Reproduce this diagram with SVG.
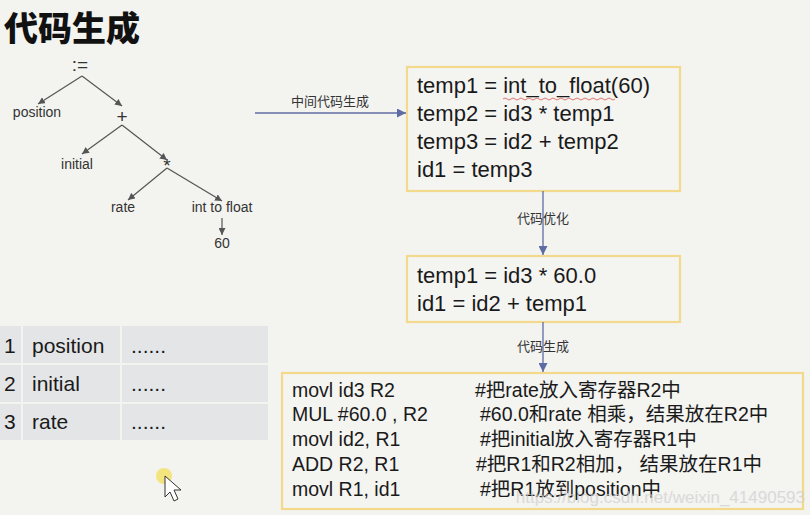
<svg xmlns="http://www.w3.org/2000/svg" width="810" height="515" viewBox="0 0 810 515">
<defs>
<style>
.bg{fill:#f3f3f0}
.title{font-family:"Noto Sans CJK SC","Noto Sans",sans-serif;font-weight:900;font-size:34px;fill:#111}
.tl{font-family:"Liberation Sans","Noto Sans",sans-serif;font-size:14px;fill:#333;text-anchor:middle}
.op{font-family:"Liberation Sans","Noto Sans",sans-serif;font-size:19px;fill:#333;text-anchor:middle}
.te{stroke:#555;stroke-width:1.2;fill:none;marker-end:url(#ta)}
.box{fill:#f4f4f1;stroke:#f3d98c;stroke-width:2.2}
.code{font-family:"Liberation Sans","Noto Sans",sans-serif;font-size:22px;fill:#1a1a1a}
.asm{font-family:"Liberation Sans","Noto Sans CJK SC",sans-serif;font-size:19.5px;fill:#1a1a1a}
.con{stroke:#5f6ca3;stroke-width:1.3;fill:none;marker-end:url(#ca)}
.lab{font-family:"Noto Sans CJK SC","Noto Sans",sans-serif;font-size:13px;fill:#333;text-anchor:middle}
.cell{fill:#e4e5e7}
.tt{font-family:"Liberation Sans","Noto Sans",sans-serif;font-size:21px;fill:#1a1a1a}
</style>
<marker id="ta" viewBox="0 0 10 10" refX="10" refY="5" markerWidth="7" markerHeight="7" orient="auto" markerUnits="userSpaceOnUse">
<path d="M0,0 L10,5 L0,10 z" fill="#555"/>
</marker>
<marker id="ca" viewBox="0 0 10 10" refX="10" refY="5" markerWidth="9" markerHeight="9" orient="auto" markerUnits="userSpaceOnUse">
<path d="M0,0 L10,5 L0,10 z" fill="#5f6ca3"/>
</marker>
</defs>
<rect class="bg" x="0" y="0" width="810" height="515"/>
<text class="title" x="4" y="41">代码生成</text>

<g id="tree">
<g id="n-assign"><text class="op" x="80" y="71">:=</text></g>
<g id="n-position"><text class="tl" x="37" y="117">position</text></g>
<g id="n-plus"><text class="op" x="122" y="123">+</text></g>
<g id="n-initial"><text class="tl" x="77" y="169">initial</text></g>
<g id="n-mul"><text class="op" x="167" y="172">*</text></g>
<g id="n-rate"><text class="tl" x="123" y="212">rate</text></g>
<g id="n-itf"><text class="tl" x="222" y="212">int to float</text></g>
<g id="n-60"><text class="tl" x="222" y="248">60</text></g>
<g id="tree-edges">
<line class="te" x1="82" y1="76" x2="38" y2="104"/>
<line class="te" x1="82" y1="76" x2="122" y2="106"/>
<line class="te" x1="122" y1="125" x2="82" y2="154"/>
<line class="te" x1="122" y1="125" x2="167" y2="160"/>
<line class="te" x1="167" y1="168" x2="128" y2="200"/>
<line class="te" x1="167" y1="168" x2="222" y2="201"/>
<line class="te" x1="222" y1="218" x2="222" y2="235"/>
</g>
</g>

<g id="symtab">
<rect class="cell" x="0" y="326" width="21" height="37"/>
<rect class="cell" x="23" y="326" width="97" height="37"/>
<rect class="cell" x="122" y="326" width="146" height="37"/>
<rect class="cell" x="0" y="365" width="21" height="37"/>
<rect class="cell" x="23" y="365" width="97" height="37"/>
<rect class="cell" x="122" y="365" width="146" height="37"/>
<rect class="cell" x="0" y="404" width="21" height="36"/>
<rect class="cell" x="23" y="404" width="97" height="36"/>
<rect class="cell" x="122" y="404" width="146" height="36"/>
<text class="tt" x="4" y="353">1</text>
<text class="tt" x="32" y="353">position</text>
<text class="tt" x="131" y="353">......</text>
<text class="tt" x="4" y="391">2</text>
<text class="tt" x="32" y="391">initial</text>
<text class="tt" x="131" y="391">......</text>
<text class="tt" x="4" y="429">3</text>
<text class="tt" x="32" y="429">rate</text>
<text class="tt" x="131" y="429">......</text>
</g>

<g id="box-ir">
<rect class="box" x="407" y="67" width="273" height="124"/>
<text class="code" x="417" y="93">temp1 = int_to_float(60)</text>
<path d="M503,99 q2,-2 4,0 t4,0 t4,0 t4,0 t4,0 t4,0 t4,0 t4,0 t4,0 t4,0 t4,0 t4,0 t4,0 t4,0 t4,0 t4,0 t4,0 t4,0 t4,0 t4,0 t4,0 t4,0 t4,0 t4,0 t4,0 t4,0 t4,0 t4,0" fill="none" stroke="#d9534f" stroke-width="0.8"/>
<text class="code" x="417" y="121">temp2 = id3 * temp1</text>
<text class="code" x="417" y="149">temp3 = id2 + temp2</text>
<text class="code" x="417" y="177">id1 = temp3</text>
</g>

<g id="box-opt">
<rect class="box" x="407" y="256" width="273" height="66"/>
<text class="code" x="417" y="283">temp1 = id3 * 60.0</text>
<text class="code" x="417" y="311">id1 = id2 + temp1</text>
</g>

<g id="box-asm">
<rect class="box" x="282" y="373" width="521" height="136"/>
<text class="asm" x="292" y="397">movl id3 R2</text>
<text class="asm" x="475" y="397">#把rate放入寄存器R2中</text>
<text class="asm" x="292" y="421">MUL #60.0  , R2</text>
<text class="asm" x="480" y="421">#60.0和rate 相乘，结果放在R2中</text>
<text class="asm" x="292" y="446">movl id2, R1</text>
<text class="asm" x="480" y="446">#把initial放入寄存器R1中</text>
<text class="asm" x="292" y="471">ADD R2, R1</text>
<text class="asm" x="476" y="471">#把R1和R2相加， 结果放在R1中</text>
<text class="asm" x="292" y="496">movl R1, id1</text>
<text class="asm" x="480" y="496">#把R1放到position中</text>
</g>

<g id="connectors">
<line class="con" x1="255" y1="113" x2="406" y2="113"/>
<text class="lab" x="330" y="106">中间代码生成</text>
<line class="con" x1="543" y1="191" x2="543" y2="255"/>
<text class="lab" x="543" y="223">代码优化</text>
<line class="con" x1="543" y1="322" x2="543" y2="372"/>
<text class="lab" x="543" y="351">代码生成</text>
</g>

<text x="805" y="503" text-anchor="end" font-family="Liberation Sans, sans-serif" font-size="17" fill="#cfcfcf" opacity="0.7">https://blog.csdn.net/weixin_41490593</text>

<g id="cursor">
<circle cx="164" cy="476" r="8" fill="#f3e06a" opacity="0.85"/>
<path d="M165,476 L165,497 L170,492 L174,501 L178,499 L174,490 L181,490 Z" fill="#fff" stroke="#333" stroke-width="1"/>
</g>
</svg>
